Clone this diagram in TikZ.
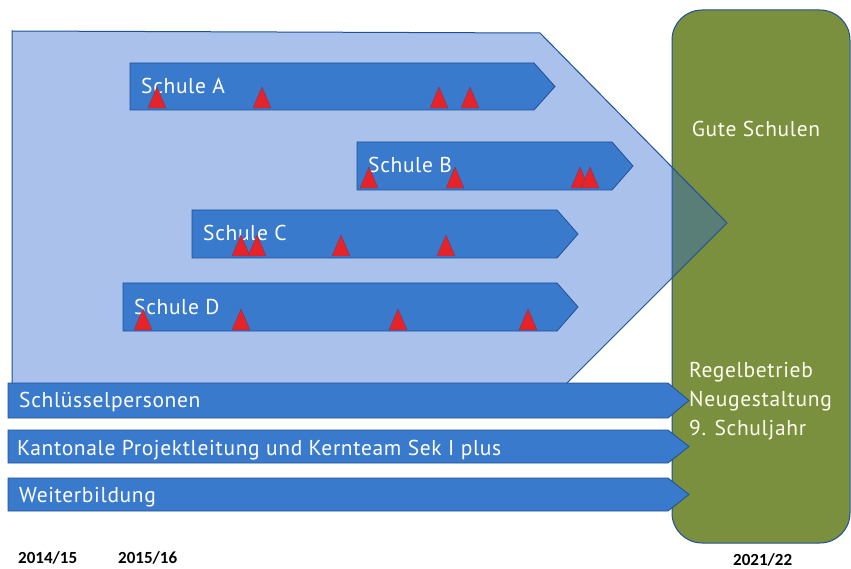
\documentclass[tikz,border=0pt]{standalone}
\usepackage{fontspec}
\setmainfont{Carlito}
\newfontfamily\barfont[LetterSpace=3]{PT Sans}
\definecolor{gruen}{RGB}{122,144,62}
\definecolor{balken}{RGB}{58,122,204}
\definecolor{rand}{RGB}{30,80,150}
\definecolor{hell}{RGB}{40,100,205}
\definecolor{rot}{RGB}{230,35,40}
\begin{document}
\begin{tikzpicture}[x=1pt,y=-1pt,
  bar/.style={fill=balken,draw=rand,line width=0.8pt},
  bartext/.style={text=white,font=\barfont\fontsize{21.5}{24}\selectfont,anchor=base west,inner sep=0pt},
  tri/.style={fill=rot,draw=rand!60!rot,line width=0.4pt},
  year/.style={font=\bfseries\fontsize{17}{19}\selectfont,inner sep=0pt,anchor=base west}]
\useasboundingbox (0,0) rectangle (851,569);
% green target box
\draw[fill=gruen,draw=rand,line width=1pt,rounded corners=30pt] (672,10) rectangle (850,543);
\node[text=white!94!yellow,font=\barfont\fontsize{21.5}{24}\selectfont,anchor=base,inner sep=0pt] (gute) at (756,137) {Gute Schulen};
% translucent pentagon
\draw[fill=hell,fill opacity=0.4,draw=rand,line width=1pt] (12,31) -- (540,33) -- (727,223) -- (565,385) -- (12,385) -- cycle;
% school bars
\newcommand\schoolbar[5]{% name, x0, x1, ytop, ybot
  \draw[bar] (#2,#4) -- (#3,#4) -- ({#3+21},{(#4+#5)/2}) -- (#3,#5) -- (#2,#5) -- cycle;}
\newcommand\tri[2]{\draw[tri] ({#1-9},#2) -- (#1,{#2-21}) -- ({#1+9},#2) -- cycle;}
\schoolbar{A}{130}{534}{63}{110}
\schoolbar{B}{357}{612}{142}{190}
\schoolbar{C}{192}{557}{210}{258}
\schoolbar{D}{123}{557}{283}{331}
\node[bartext] (sa) at (141,94) {Schule A};
\node[bartext] (sb) at (368,173) {Schule B};
\node[bartext] (sc) at (203,241) {Schule C};
\node[bartext] (sd) at (134,314) {Schule D};
\tri{157}{108}\tri{262}{108}\tri{439}{108}\tri{470}{108}
\tri{369}{188}\tri{455}{188}\tri{580}{188}\tri{590}{188}
\tri{241}{256}\tri{257}{256}\tri{341}{256}\tri{446}{256}
\tri{143}{330}\tri{241}{330}\tri{398}{330}\tri{528}{330}
% bottom bars
\schoolbar{S}{8}{668}{383}{418}
\schoolbar{K}{8}{668}{430}{463}
\schoolbar{W}{8}{668}{478}{511}
\node[bartext] (schl) at (19,407) {Schlüsselpersonen};
\node[bartext] (kant) at (17,455) {Kantonale Projektleitung und Kernteam Sek I plus};
\node[bartext] (weit) at (19,502) {Weiterbildung};
% green box lower text
\node[bartext,text=white!94!yellow] (regel1) at (689,377) {Regelbetrieb};
\node[bartext,text=white!94!yellow] (regel2) at (689,406) {Neugestaltung};
\node[bartext,text=white!94!yellow] (regel3) at (689,435) {9. Schuljahr};
% years
\node[year] (y1) at (18,563) {2014/15};
\node[year] (y2) at (118,563) {2015/16};
\node[year] (y3) at (733,565) {2021/22};
\end{tikzpicture}
\end{document}
